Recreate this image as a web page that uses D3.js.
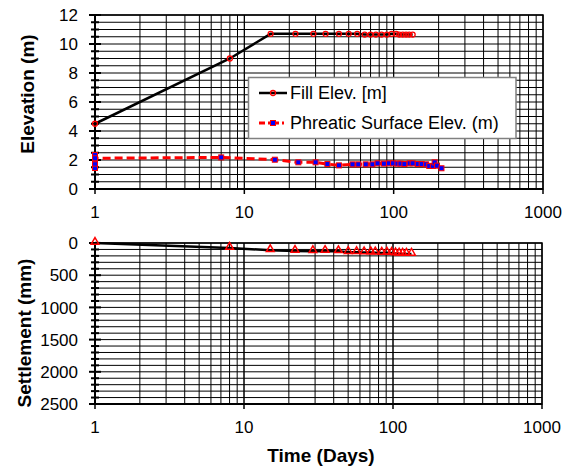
<!DOCTYPE html>
<html lang="en">
<head>
  <meta charset="UTF-8">
  <title>Fill and settlement</title>
  <style>
    body {
      margin: 0;
      padding: 0;
      background: #fff;
    }
    text {
      font-family: "Liberation Sans", Arial, sans-serif;
      fill: #000;
    }
  </style>
</head>
<body>
  <svg id="chart" width="568" height="469"></svg>
  <script src="https://d3js.org/d3.v7.min.js"></script>
  <script>
    // Fill elevation (m) vs time (days)
    const fillDays = [1, 8, 15, 22, 29, 35, 43, 50, 57, 64, 70, 76, 83, 90, 97, 104, 109, 115, 121, 127, 134];
    const fillElev = [4.5, 9.0, 10.7, 10.7, 10.7, 10.7, 10.7, 10.7, 10.7, 10.65, 10.65, 10.65, 10.65, 10.65, 10.7, 10.7, 10.65, 10.65, 10.65, 10.65, 10.65];

    // Phreatic surface elevation (m)
    const phreaticDays = [1, 1, 1, 1, 1, 7, 16, 23, 30, 36, 43, 53, 58, 65, 72, 78, 86, 93, 99, 106, 111, 118, 128, 134, 145, 154, 165, 173, 183, 188, 195, 209];
    const phreaticElev = [1.45, 1.75, 2.05, 2.35, 2.12, 2.18, 2.02, 1.84, 1.84, 1.72, 1.63, 1.70, 1.70, 1.70, 1.70, 1.77, 1.75, 1.77, 1.77, 1.75, 1.75, 1.72, 1.77, 1.77, 1.72, 1.72, 1.70, 1.59, 1.59, 1.84, 1.61, 1.43];

    // Settlement (mm)
    const settleDays = [1, 8, 15, 22, 29, 35, 43, 50, 57, 64, 71, 76, 84, 91, 98, 104, 110, 116, 123, 133];
    const settleMm = [0, 77, 113, 124, 128, 126, 130, 142, 144, 148, 149, 150, 154, 152, 156, 163, 168, 169, 170, 170];

    const xTickLabels = [1, 10, 100, 1000];
    const elevTicks = [0, 2, 4, 6, 8, 10, 12];
    const settleTicks = [0, 500, 1000, 1500, 2000, 2500];

    const svg = d3.select('#chart');
    const font = 17;

    const xTop = d3.scaleLog().domain([1, 1000]).range([95, 543]);
    const yTop = d3.scaleLinear().domain([0, 12]).range([189, 15]);
    const xBot = d3.scaleLog().domain([1, 1000]).range([95, 542]);
    const yBot = d3.scaleLinear().domain([0, 2500]).range([243, 404]);

    // log minor positions 1..1000
    const logGrid = [];
    [1, 10, 100].forEach(d => { for (let k = 1; k <= 10; k++) logGrid.push(d * k); });

    function drawPanel(x, y, step, major) {
      const g = svg.append('g');
      const [x0, x1] = x.range();
      const [yb, yt] = y.range()[0] > y.range()[1] ? y.range() : [y.range()[1], y.range()[0]];
      const [d0, d1] = y.domain();
      const rows = d3.range(d0, d1 + step / 2, step);

      // grid
      g.selectAll('.vg').data(logGrid).enter().append('line')
        .attr('x1', d => x(d)).attr('x2', d => x(d))
        .attr('y1', yt).attr('y2', yb)
        .attr('stroke', '#000').attr('stroke-width', 1);
      g.selectAll('.hg').data(rows).enter().append('line')
        .attr('x1', x0).attr('x2', x1)
        .attr('y1', d => y(d)).attr('y2', d => y(d))
        .attr('stroke', '#000').attr('stroke-width', 1);

      // frame
      g.append('rect')
        .attr('x', x0).attr('y', yt)
        .attr('width', x1 - x0).attr('height', yb - yt)
        .attr('fill', 'none').attr('stroke', '#000').attr('stroke-width', 1.5);

      // y axis line + ticks crossing it
      g.append('line').attr('x1', x0).attr('x2', x0).attr('y1', yt).attr('y2', yb)
        .attr('stroke', '#000').attr('stroke-width', 2);
      g.selectAll('.yt').data(rows).enter().append('line')
        .attr('x1', d => x0 - (Math.abs(d % major) < 1e-9 ? 6 : 4))
        .attr('x2', d => x0 + (Math.abs(d % major) < 1e-9 ? 6 : 4))
        .attr('y1', d => y(d)).attr('y2', d => y(d))
        .attr('stroke', '#000').attr('stroke-width', 2);

      // x axis line + ticks
      const xAxisY = y(d0) > y(d1) ? y(d0) : y(d1);
      g.append('line').attr('x1', x0).attr('x2', x1).attr('y1', xAxisY).attr('y2', xAxisY)
        .attr('stroke', '#000').attr('stroke-width', 2);
      g.selectAll('.xt').data(xTickLabels).enter().append('line')
        .attr('x1', d => x(d)).attr('x2', d => x(d))
        .attr('y1', xAxisY).attr('y2', xAxisY + 5)
        .attr('stroke', '#000').attr('stroke-width', 1.5);
      return g;
    }

    drawPanel(xTop, yTop, 0.5, 2);
    drawPanel(xBot, yBot, 100, 500);

    // tick labels
    svg.selectAll('.xlTop').data(xTickLabels).enter().append('text')
      .attr('x', d => xTop(d)).attr('y', 218)
      .attr('text-anchor', 'middle').style('font-size', font + 'px')
      .text(d => d);
    svg.selectAll('.xlBot').data(xTickLabels).enter().append('text')
      .attr('x', d => xBot(d)).attr('y', 433)
      .attr('text-anchor', 'middle').style('font-size', font + 'px')
      .text(d => d);
    svg.selectAll('.ylTop').data(elevTicks).enter().append('text')
      .attr('x', 78).attr('y', d => yTop(d)).attr('dy', '0.36em')
      .attr('text-anchor', 'end').style('font-size', font + 'px')
      .text(d => d);
    svg.selectAll('.ylBot').data(settleTicks).enter().append('text')
      .attr('x', 78).attr('y', d => yBot(d)).attr('dy', '0.36em')
      .attr('text-anchor', 'end').style('font-size', font + 'px')
      .text(d => d);

    // axis titles
    svg.append('text')
      .attr('transform', 'translate(34, 94) rotate(-90)')
      .attr('text-anchor', 'middle').style('font-size', '19px').style('font-weight', 'bold')
      .text('Elevation (m)');
    svg.append('text')
      .attr('transform', 'translate(31, 333) rotate(-90)')
      .attr('text-anchor', 'middle').style('font-size', '19px').style('font-weight', 'bold')
      .text('Settlement  (mm)');
    svg.append('text')
      .attr('x', 321).attr('y', 462)
      .attr('text-anchor', 'middle').style('font-size', '19px').style('font-weight', 'bold')
      .text('Time (Days)');

    // series
    const fillData = fillDays.map((d, i) => ({ x: d, y: fillElev[i] }));
    const phreaticData = phreaticDays.map((d, i) => ({ x: d, y: phreaticElev[i] }));
    const settleData = settleDays.map((d, i) => ({ x: d, y: settleMm[i] }));

    const lineTop = d3.line().x(d => xTop(d.x)).y(d => yTop(d.y));
    const lineBot = d3.line().x(d => xBot(d.x)).y(d => yBot(d.y));

    // Phreatic surface
    svg.append('path').datum(phreaticData)
      .attr('d', lineTop).attr('fill', 'none')
      .attr('stroke', '#ff0000').attr('stroke-width', 3)
      .attr('stroke-dasharray', '8,4');
    svg.selectAll('.psq').data(phreaticData).enter().append('rect')
      .attr('x', d => xTop(d.x) - 2.5).attr('y', d => yTop(d.y) - 2.5)
      .attr('width', 5).attr('height', 5)
      .attr('fill', '#0000ff').attr('stroke', '#ff0000').attr('stroke-width', 1);

    // Fill elevation
    svg.append('path').datum(fillData)
      .attr('d', lineTop).attr('fill', 'none')
      .attr('stroke', '#000').attr('stroke-width', 2.5);
    svg.selectAll('.fc').data(fillData).enter().append('circle')
      .attr('cx', d => xTop(d.x)).attr('cy', d => yTop(d.y)).attr('r', 2.5)
      .attr('fill', 'none').attr('stroke', '#ff0000').attr('stroke-width', 1.3);

    // Settlement
    svg.append('path').datum(settleData)
      .attr('d', lineBot).attr('fill', 'none')
      .attr('stroke', '#000').attr('stroke-width', 2.5);
    const tri = d3.symbol().type(d3.symbolTriangle).size(26);
    svg.selectAll('.st').data(settleData).enter().append('path')
      .attr('d', tri)
      .attr('transform', d => `translate(${xBot(d.x)}, ${yBot(d.y) - 1})`)
      .attr('fill', 'none').attr('stroke', '#ff0000').attr('stroke-width', 1.5);

    // Legend
    const lg = svg.append('g');
    lg.append('rect')
      .attr('x', 248.5).attr('y', 77.5).attr('width', 267.5).attr('height', 61)
      .attr('fill', '#fff').attr('stroke', '#808080').attr('stroke-width', 1.5);
    lg.append('line').attr('x1', 259).attr('x2', 287).attr('y1', 93).attr('y2', 93)
      .attr('stroke', '#000').attr('stroke-width', 2.5);
    lg.append('circle').attr('cx', 273).attr('cy', 93).attr('r', 2.5)
      .attr('fill', 'none').attr('stroke', '#ff0000').attr('stroke-width', 1.3);
    lg.append('line').attr('x1', 259).attr('x2', 287).attr('y1', 123).attr('y2', 123)
      .attr('stroke', '#ff0000').attr('stroke-width', 3).attr('stroke-dasharray', '6,3,2,3');
    lg.append('rect').attr('x', 270.5).attr('y', 120.5).attr('width', 5).attr('height', 5)
      .attr('fill', '#0000ff').attr('stroke', '#ff0000').attr('stroke-width', 1);
    lg.append('text').attr('x', 290).attr('y', 99).style('font-size', '18px').text('Fill Elev. [m]');
    lg.append('text').attr('x', 290).attr('y', 129).style('font-size', '18px').text('Phreatic Surface Elev. (m)');
  </script>
</body>
</html>
